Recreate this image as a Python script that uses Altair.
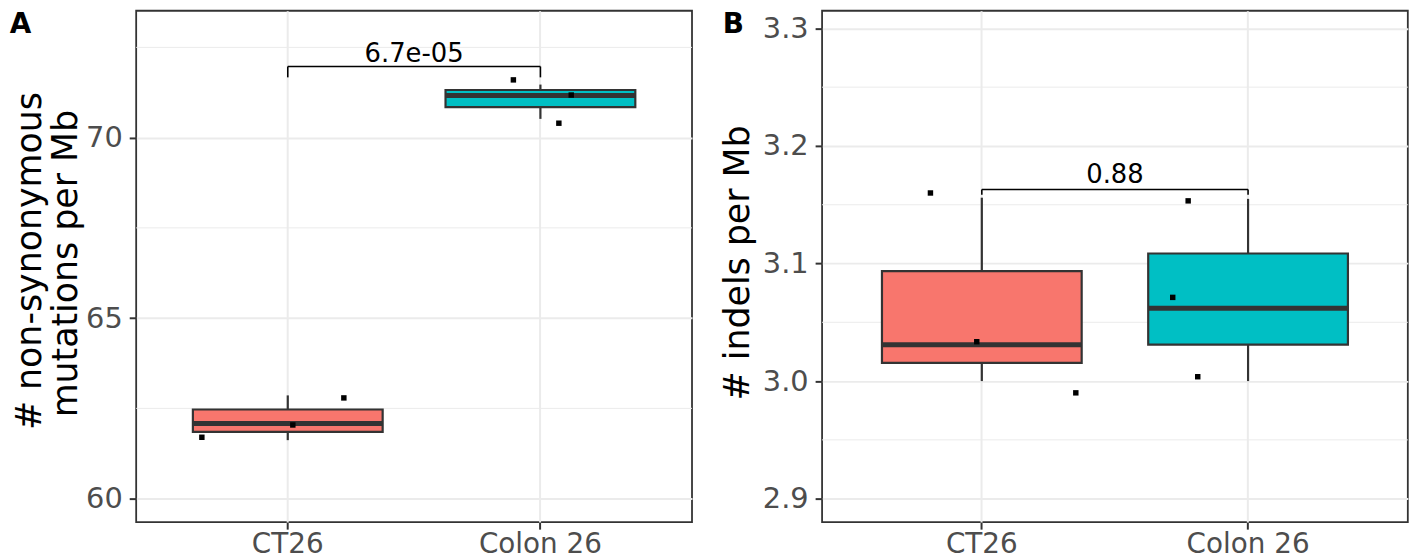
import altair as alt
import pandas as pd

# ---------------- data ----------------
CATEGORIES = ["CT26", "Colon 26"]
COLORS = ["#F8766D", "#00BFC4"]

# raw sample values (boxplots, min-max whiskers)
A_BOX_GROUP = ["CT26", "CT26", "CT26", "Colon 26", "Colon 26", "Colon 26"]
A_BOX_VALUE = [61.62, 62.08, 62.86, 70.52, 71.17, 71.47]
B_BOX_GROUP = ["CT26", "CT26", "CT26", "Colon 26", "Colon 26", "Colon 26"]
B_BOX_VALUE = [3.000, 3.031, 3.156, 3.000, 3.062, 3.155]

# jittered points as drawn (x in category units: CT26 = 1, Colon 26 = 2)
A_POINT_X = [0.660, 1.020, 1.222, 1.893, 2.122, 2.073]
A_POINT_Y = [61.70, 62.04, 62.79, 71.60, 71.18, 70.40]
B_POINT_X = [0.807, 0.981, 1.353, 1.775, 1.717, 1.811]
B_POINT_Y = [3.160, 3.0335, 2.990, 3.1533, 3.0712, 3.0037]

# significance brackets
A_BRACKET = {"y": 71.97, "tip": 71.67, "label_y": 72.10, "label": "6.7e-05"}
B_BRACKET = {"y": 3.163, "tip": 3.1584, "label_y": 3.1682, "label": "0.88"}

# axes
A_TICKS = [60, 65, 70]
A_MINOR = [62.5, 67.5, 72.5]
A_DOMAIN = [59.348, 73.515]
B_TICKS = [2.9, 3.0, 3.1, 3.2, 3.3]
B_MINOR = [2.95, 3.05, 3.15, 3.25]
B_DOMAIN = [2.88, 3.315]

A_TITLE = ["# non-synonymous", "mutations per Mb"]
B_TITLE = ["# indels per Mb"]

FONT = "DejaVu Sans"


def panel(box_group, box_value, px, py, bracket, ticks, minor, domain, fmt,
          width, height, box_size, tag, tag_x, title_lines, title_xs, title_ys):
    yscale = alt.Scale(domain=domain, nice=False, zero=False)
    xnum = alt.Scale(domain=[0.4, 2.6], nice=False, zero=False)
    yaxis = alt.Axis(title=None, values=ticks, format=fmt, labelPadding=7,
                     grid=True, labelFontSize=29)

    grid = alt.Chart(pd.DataFrame({"v": minor})).mark_rule(
        color="#EBEBEB", strokeWidth=1
    ).encode(y=alt.Y("v:Q", scale=yscale, axis=yaxis))

    box = alt.Chart(pd.DataFrame({"group": box_group, "value": box_value})).mark_boxplot(
        extent="min-max",
        size=box_size,
        ticks=False,
        outliers=False,
        box={"stroke": "#333333", "strokeWidth": 2.2, "opacity": 1},
        median={"color": "#333333", "thickness": 5, "opacity": 1},
        rule={"color": "#333333", "strokeWidth": 2.2, "opacity": 1},
    ).encode(
        x=alt.X("group:N", sort=CATEGORIES,
                scale=alt.Scale(domain=CATEGORIES, paddingInner=0, paddingOuter=0.1),
                axis=alt.Axis(title=None, labelAngle=0, bandPosition=0.5,
                              labelPadding=2, labelFontSize=28, grid=True)),
        y=alt.Y("value:Q", scale=yscale, axis=yaxis),
        color=alt.Color("group:N", scale=alt.Scale(domain=CATEGORIES, range=COLORS),
                        legend=None),
    )

    pts = alt.Chart(pd.DataFrame({"x": px, "y": py})).mark_square(
        size=30, color="black", opacity=1
    ).encode(
        x=alt.X("x:Q", scale=xnum, axis=None),
        y=alt.Y("y:Q", scale=yscale, axis=yaxis),
    )

    br = pd.DataFrame({
        "x": [1, 1, 2],
        "x2": [2, 1, 2],
        "y": [bracket["y"], bracket["y"], bracket["y"]],
        "y2": [bracket["y"], bracket["tip"], bracket["tip"]],
    })
    brk = alt.Chart(br).mark_rule(color="black", strokeWidth=1.6).encode(
        x=alt.X("x:Q", scale=xnum, axis=None),
        x2="x2:Q",
        y=alt.Y("y:Q", scale=yscale, axis=yaxis),
        y2="y2:Q",
    )

    lab = alt.Chart(pd.DataFrame({"x": [1.5], "y": [bracket["label_y"]],
                                  "t": [bracket["label"]]})).mark_text(
        font=FONT, fontSize=26, color="black", baseline="alphabetic", align="center"
    ).encode(
        x=alt.X("x:Q", scale=xnum, axis=None),
        y=alt.Y("y:Q", scale=yscale, axis=yaxis),
        text="t:N",
    )

    tag_mark = alt.Chart(pd.DataFrame({"t": [tag]})).mark_text(
        font=FONT, fontSize=28, fontWeight="bold", color="black",
        align="left", baseline="alphabetic"
    ).encode(x=alt.value(tag_x), y=alt.value(22), text="t:N")

    titles = []
    for line, tx, ty in zip(title_lines, title_xs, title_ys):
        titles.append(
            alt.Chart(pd.DataFrame({"t": [line]})).mark_text(
                font=FONT, fontSize=35, color="black", angle=270,
                align="center", baseline="alphabetic"
            ).encode(x=alt.value(tx), y=alt.value(ty), text="t:N")
        )

    return alt.layer(grid, box, pts, brk, lab, tag_mark, *titles).resolve_scale(
        x="independent"
    ).properties(width=width, height=height)


pa = panel(A_BOX_GROUP, A_BOX_VALUE, A_POINT_X, A_POINT_Y, A_BRACKET, A_TICKS, A_MINOR,
           A_DOMAIN, "d", 559.4, 514.7, 191, "A", -127.3, A_TITLE,
           [-95.5, -60], [252, 254.5])
pb = panel(B_BOX_GROUP, B_BOX_VALUE, B_POINT_X, B_POINT_Y, B_BRACKET, B_TICKS, B_MINOR,
           B_DOMAIN, ".1f", 589.5, 514.7, 201, "B", -100, B_TITLE,
           [-74], [253.8])

chart = alt.hconcat(pa, pb, spacing=130.3, bounds="flush").properties(
    padding={"left": 0, "top": 0, "right": 0, "bottom": 0}
).configure_axis(
    labelFont=FONT,
    labelColor="#4D4D4D",
    tickColor="#333333",
    tickWidth=2,
    tickSize=7,
    gridColor="#EBEBEB",
    gridWidth=2,
    domain=False,
).configure_view(
    stroke="#333333", strokeWidth=1.8
)

chart.save("out.html", embed_options={"renderer": "svg", "actions": False})
